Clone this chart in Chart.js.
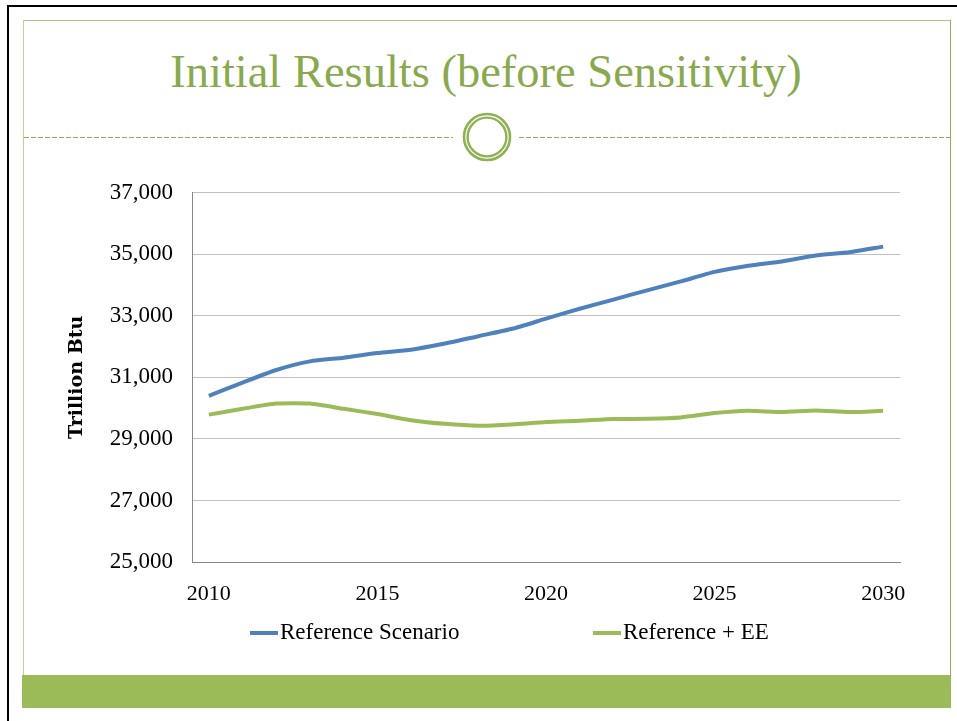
<!DOCTYPE html>
<html>
<head>
<meta charset="utf-8">
<script src="https://cdn.jsdelivr.net/npm/chart.js@4.4.1/dist/chart.umd.min.js"></script>
<style>
  html, body { margin: 0; padding: 0; background: #fff; }
  body { width: 957px; height: 721px; position: relative; overflow: hidden; }
  .edge-top { position: absolute; left: 7px; top: 5px; width: 950px; height: 2px; background: #000; }
  .edge-left { position: absolute; left: 7px; top: 5px; width: 2px; height: 716px; background: #000; }
  .frame { position: absolute; left: 23px; top: 20px; width: 926px; height: 655px;
           border-top: 1px solid #a9c57b; border-right: 1px solid #8fb153; border-left: 1px solid #bdd39a; }
  .dash { position: absolute; top: 137px; height: 1px;
          background: repeating-linear-gradient(to right, #8fb150 0 5px, transparent 5px 7px); }
  .ring { position: absolute; left: 462px; top: 112px; }
  .bar { position: absolute; left: 22px; top: 675px; width: 929px; height: 33px; background: #9bbb59; }
  h1 { position: absolute; left: 0; top: 42px; width: 972px; margin: 0; text-align: center;
       font: normal 46.5px "Liberation Serif", serif; color: #8aa94f; line-height: 60px; }
  #wrap { position: absolute; left: 40px; top: 160px; width: 880px; height: 500px; }
</style>
</head>
<body>
<div class="edge-top"></div>
<div class="edge-left"></div>
<div class="frame"></div>
<div class="dash" style="left:24px; width:429px"></div>
<div class="dash" style="left:519px; width:431px"></div>
<svg class="ring" width="50" height="50" viewBox="0 0 50 50">
  <circle cx="25" cy="25" r="23" fill="#fff" stroke="#8fb153" stroke-width="2.6"/>
  <circle cx="25" cy="25" r="19.4" fill="none" stroke="#8fb153" stroke-width="2.4"/>
</svg>
<h1>Initial Results (before Sensitivity)</h1>
<div class="bar"></div>
<div id="wrap"><canvas id="chart"></canvas></div>
<script>
const years = ['2010', '2011', '2012', '2013', '2014', '2015', '2016', '2017', '2018', '2019', '2020',
               '2021', '2022', '2023', '2024', '2025', '2026', '2027', '2028', '2029', '2030'];
const referenceScenario = [30400, 30830, 31240, 31520, 31640, 31790, 31900, 32100, 32340, 32580, 32910,
                           33230, 33530, 33830, 34120, 34430, 34630, 34770, 34960, 35070, 35250];
const referenceEE = [29790, 29980, 30150, 30150, 29980, 29810, 29610, 29490, 29430, 29470, 29550,
                     29590, 29645, 29655, 29700, 29840, 29915, 29875, 29925, 29875, 29915];
const yTicks = [25000, 27000, 29000, 31000, 33000, 35000, 37000];

const serif = '"Liberation Serif", serif';

// legend drawn as a line sample followed by the label, spaced like the slide
const lineLegend = {
  id: 'lineLegend',
  afterDraw(chart, args, opts) {
    const ctx = chart.ctx;
    ctx.save();
    ctx.font = '23px ' + serif;
    ctx.textBaseline = 'middle';
    chart.data.datasets.forEach((ds, i) => {
      const x = opts.starts[i];
      ctx.strokeStyle = ds.borderColor;
      ctx.lineWidth = 4;
      ctx.beginPath();
      ctx.moveTo(x, opts.y);
      ctx.lineTo(x + 28, opts.y);
      ctx.stroke();
      ctx.fillStyle = '#000';
      ctx.fillText(ds.label, x + 30, opts.y);
    });
    ctx.restore();
  }
};

new Chart(document.getElementById('chart'), {
  type: 'line',
  data: {
    labels: years,
    datasets: [{
      label: 'Reference Scenario',
      data: referenceScenario,
      borderColor: '#4f81bd',
      backgroundColor: '#4f81bd',
      borderWidth: 4,
      pointRadius: 0,
      tension: 0.2
    }, {
      label: 'Reference + EE',
      data: referenceEE,
      borderColor: '#9bbb59',
      backgroundColor: '#9bbb59',
      borderWidth: 4,
      pointRadius: 0,
      tension: 0.2
    }]
  },
  options: {
    responsive: true,
    maintainAspectRatio: false,
    animation: false,
    layout: { padding: { top: 31, right: 20, bottom: 33.6, left: 0 } },
    plugins: {
      legend: { display: false },
      tooltip: { enabled: false },
      lineLegend: { starts: [210, 553], y: 473 }
    },
    scales: {
      x: {
        offset: true,
        afterFit: s => { s.paddingLeft = 0; s.paddingRight = 0; },
        grid: { display: false, drawTicks: false },
        border: { color: '#868686', width: 1 },
        ticks: {
          autoSkip: false,
          maxRotation: 0,
          padding: 19,
          color: '#000',
          font: { family: serif, size: 22 },
          callback: (v, i) => (parseInt(years[i]) % 5 === 0 ? years[i] : '')
        }
      },
      y: {
        min: 25000,
        max: 37000,
        afterFit: s => { s.width = 152; },
        afterBuildTicks: s => { s.ticks = yTicks.map(v => ({ value: v })); },
        grid: { color: '#c0c0c0', lineWidth: 1, drawTicks: false },
        border: { color: '#868686', width: 1 },
        title: {
          display: true,
          text: 'Trillion Btu',
          color: '#000',
          font: { family: '"DejaVu Serif", serif', size: 19, weight: 'bold' },
          padding: { top: 26, bottom: 0 }
        },
        ticks: {
          padding: 19,
          color: '#000',
          font: { family: serif, size: 23 },
          callback: v => v.toLocaleString('en-US')
        }
      }
    }
  },
  plugins: [lineLegend]
});
</script>
</body>
</html>
